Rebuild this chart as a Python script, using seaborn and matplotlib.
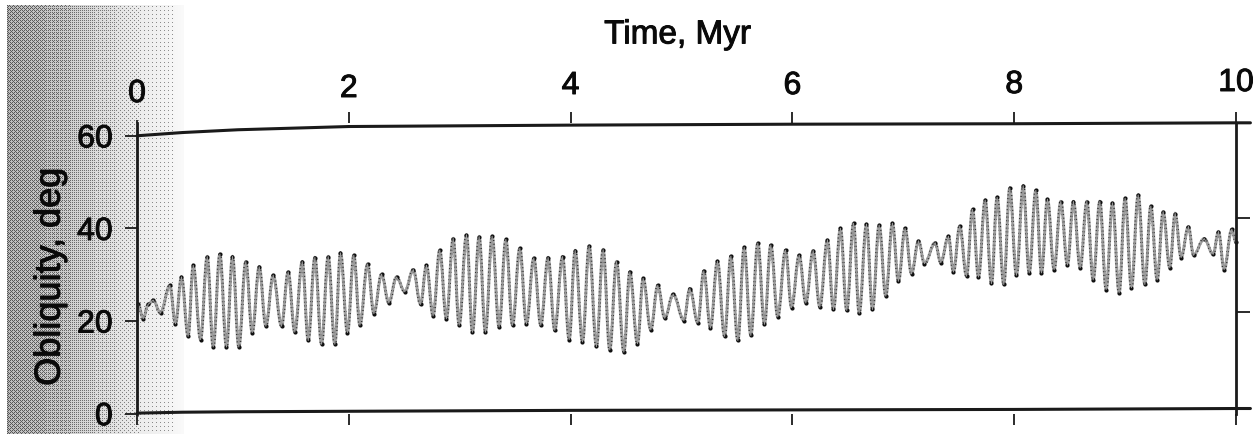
import numpy as np
import pandas as pd
import matplotlib
matplotlib.use("Agg")
import matplotlib.pyplot as plt
import matplotlib.patches as mpatches
import matplotlib.patheffects as pe
import matplotlib.path as mpath
import matplotlib.transforms as mtrans
import seaborn as sns

sns.set_theme(style="white")
plt.rcParams["font.family"] = ["Liberation Sans", "DejaVu Sans"]

# turning points of the obliquity curve
time_myr = [
    0.100, 0.146, 0.191, 0.236, 0.302, 0.386, 0.437, 0.491, 0.551, 0.597, 0.663, 0.723, 0.777, 0.837,
    0.897, 0.951, 1.008, 1.071, 1.129, 1.192, 1.252, 1.318, 1.393, 1.453, 1.513, 1.580, 1.634, 1.694,
    1.754, 1.814, 1.874, 1.925, 1.988, 2.045, 2.100, 2.169, 2.226, 2.295, 2.361, 2.430, 2.505, 2.581,
    2.647, 2.700, 2.760, 2.820, 2.880, 2.941, 2.995, 3.061, 3.115, 3.175, 3.232, 3.292, 3.355, 3.416,
    3.476, 3.542, 3.602, 3.668, 3.731, 3.797, 3.857, 3.927, 3.987, 4.041, 4.107, 4.167, 4.233, 4.293,
    4.353, 4.414, 4.480, 4.534, 4.603, 4.654, 4.723, 4.786, 4.849, 4.925, 5.021, 5.075, 5.147, 5.201,
    5.261, 5.324, 5.388, 5.445, 5.508, 5.565, 5.625, 5.688, 5.748, 5.805, 5.868, 5.938, 5.992, 6.061,
    6.121, 6.187, 6.247, 6.316, 6.370, 6.433, 6.490, 6.551, 6.602, 6.668, 6.722, 6.782, 6.842, 6.902,
    6.956, 7.016, 7.074, 7.137, 7.191, 7.287, 7.338, 7.407, 7.452, 7.509, 7.570, 7.624, 7.678, 7.738,
    7.795, 7.846, 7.906, 7.960, 8.020, 8.081, 8.135, 8.195, 8.246, 8.300, 8.360, 8.420, 8.480, 8.534,
    8.595, 8.655, 8.712, 8.772, 8.829, 8.886, 8.946, 9.000, 9.057, 9.118, 9.178, 9.232, 9.289, 9.343,
    9.403, 9.451, 9.505, 9.571, 9.617, 9.713, 9.794, 9.842, 9.893, 9.962, 10.000,
]
obliquity_deg = [
    23.7, 20.5, 23.6, 24.5, 21.7, 27.7, 19.4, 29.5, 16.7, 32.0, 16.0, 33.9, 14.4, 34.4,
    14.4, 33.9, 14.4, 32.8, 17.5, 31.7, 18.9, 29.9, 18.9, 30.6, 17.6, 32.8, 15.8, 33.7,
    15.0, 33.9, 15.0, 34.7, 17.5, 34.2, 19.1, 32.3, 21.6, 30.1, 23.9, 29.5, 26.3, 31.1,
    23.6, 32.0, 21.1, 35.3, 20.5, 37.8, 19.1, 38.6, 17.6, 38.2, 17.6, 38.3, 18.7, 37.6,
    19.1, 35.7, 19.4, 33.6, 19.1, 33.7, 18.0, 33.9, 16.0, 35.2, 15.5, 36.2, 14.5, 35.4,
    13.8, 32.8, 13.3, 30.6, 15.1, 29.2, 18.1, 27.7, 20.6, 25.8, 20.1, 27.0, 19.6, 30.8,
    18.5, 32.9, 16.7, 34.0, 15.8, 35.9, 16.9, 36.8, 19.3, 36.4, 20.9, 35.3, 22.9, 34.2,
    23.9, 35.2, 23.0, 37.5, 22.5, 40.0, 22.3, 41.1, 21.7, 40.9, 22.5, 40.7, 25.4, 41.1,
    28.6, 40.0, 30.2, 37.3, 32.4, 36.9, 32.6, 38.3, 30.6, 40.5, 29.7, 44.1, 29.5, 46.1,
    28.1, 46.7, 27.9, 48.7, 29.9, 49.2, 30.4, 48.2, 30.4, 46.3, 31.1, 45.8, 32.1, 45.8,
    31.5, 45.8, 28.9, 45.8, 26.8, 45.5, 26.1, 46.5, 27.2, 47.2, 27.9, 44.8, 28.9, 43.6,
    31.5, 43.2, 33.7, 40.4, 34.2, 37.8, 34.4, 39.3, 31.1, 39.8, 37.0,
]

# the top and bottom frame lines are not straight on the scan
frame_time = [0.09, 0.5, 1.0, 2.0, 4.0, 6.0, 8.0, 10.0, 10.13]
frame_top = [60.0, 60.7, 61.3, 62.0, 62.3, 62.5, 62.6, 62.8, 62.8]
frame_bottom = [0.1, 0.3, 0.4, 0.5, 0.7, 0.8, 0.9, 1.1, 1.1]

xtick_values = [0.09, 2, 4, 6, 8, 10]
xtick_labels = ["0", "2", "4", "6", "8", "10"]
ytick_values = [0, 20, 40, 60]
right_tick_values = [21.9, 42.3]
# how far each top label sags on the scan, in pixels
xlabel_sag = [11, 6, 3, 3, 2, 0]

curve = pd.DataFrame({"time": time_myr, "obliquity": obliquity_deg})
top_line = pd.DataFrame({"time": frame_time, "deg": frame_top})
bottom_line = pd.DataFrame({"time": frame_time, "deg": frame_bottom})

W, H = 1256, 435
fig = plt.figure(figsize=(W / 100, H / 100), dpi=100, facecolor="white")

######## scanned grey band on the left, ordered dither ########
bg = fig.add_axes([0, 0, 1, 1], zorder=0)
px = np.arange(W)
shade = np.interp(px, [7, 60, 100, 137, 165, 183, 184], [0.56, 0.65, 0.77, 0.87, 0.92, 0.96, 1.0])
bayer = np.array([[0, 8, 2, 10], [12, 4, 14, 6], [3, 11, 1, 9], [15, 7, 13, 5]]) / 16
tile = np.tile(bayer, (H // 4 + 1, W // 4 + 1))[:H, :W]
dots = (shade[None, :] > tile).astype(float)
band = 0.6 * shade[None, :] + 0.4 * dots
band[:, :7] = 1
band[:6, :] = 1
bg.imshow(band, cmap="gray", vmin=0, vmax=1, aspect="auto", interpolation="bilinear")
bg.axis("off")

######## chart ########
ax_left, ax_right = 137 / W, 1236 / W
ax_bottom, ax_top = 1 - 414.6 / H, 1 - 124 / H
ax = fig.add_axes([ax_left, ax_bottom, ax_right - ax_left, ax_top - ax_bottom], zorder=1)
ax.patch.set_alpha(0)

sns.lineplot(data=curve, x="time", y="obliquity", sort=False, estimator=None,
             color="#9a9a9a", linewidth=0.8, ax=ax)

# round the curve off between turning points, flat at each one
t = curve["time"].to_numpy()
o = curve["obliquity"].to_numpy()
dt = np.diff(t)
verts = [(t[0], o[0])]
codes = [mpath.Path.MOVETO]
for i in range(len(dt)):
    verts += [(t[i] + 0.38 * dt[i], o[i]), (t[i + 1] - 0.38 * dt[i], o[i + 1]), (t[i + 1], o[i + 1])]
    codes += [mpath.Path.CURVE4] * 3
wave = mpath.Path(verts, codes)
ax.add_patch(mpatches.PathPatch(wave, fill=False, edgecolor="#a8a8a8", linewidth=2.2, capstyle="round"))
ax.add_patch(mpatches.PathPatch(wave, fill=False, edgecolor="#333333", linewidth=1.9,
                                linestyle=(0, (0.4, 1.0))))
sns.scatterplot(data=curve, x="time", y="obliquity", color="#101010", s=9,
                linewidth=0, ax=ax, clip_on=False)
sns.lineplot(data=top_line, x="time", y="deg", sort=False, estimator=None,
             color="#1a1a1a", linewidth=2.2, ax=ax, clip_on=False)
sns.lineplot(data=bottom_line, x="time", y="deg", sort=False, estimator=None,
             color="#1a1a1a", linewidth=2.2, ax=ax, clip_on=False)

ax.set_xlim(0.09, 10)
ax.set_ylim(0, 62.76)

for side in ["top", "bottom"]:
    ax.spines[side].set_visible(False)
for side in ["left", "right"]:
    ax.spines[side].set_linewidth(2.0)
    ax.spines[side].set_color("#1a1a1a")

ax.set_xticks(xtick_values)
ax.set_xticklabels(xtick_labels)
ax.set_yticks(ytick_values)
ax.tick_params(axis="x", which="major", top=True, bottom=True, labeltop=True, labelbottom=False,
               length=8, width=1.3, color="#1a1a1a", labelsize=23, pad=10, labelcolor="#0a0a0a")
ax.tick_params(axis="y", which="major", left=True, length=8.5, width=1.3, color="#1a1a1a",
               labelsize=23, pad=9, labelcolor="#0a0a0a")

bold_scan = [pe.withStroke(linewidth=0.7, foreground="#0a0a0a")]
for tick, sag in zip(ax.xaxis.get_major_ticks(), xlabel_sag):
    shift = mtrans.ScaledTranslation(0, -sag / 100, fig.dpi_scale_trans)
    tick.label2.set_transform(tick.label2.get_transform() + shift)
    tick.label2.set_path_effects(bold_scan)
# the first top tick barely shows above the frame
ax.xaxis.get_major_ticks()[0].tick2line.set_markersize(2)
for tick in ax.yaxis.get_major_ticks():
    tick.label1.set_path_effects(bold_scan)

ax2 = ax.twinx()
ax2.set_zorder(1)
ax2.set_ylim(ax.get_ylim())
ax2.set_yticks(right_tick_values)
ax2.set_yticklabels([])
ax2.tick_params(axis="y", right=True, length=10, width=1.3, color="#1a1a1a")
ax2.grid(False)
ax2.set_ylabel("")
for side in ax2.spines:
    ax2.spines[side].set_visible(False)

ax.set_xlabel("Time, Myr", fontsize=24, color="#0a0a0a", path_effects=bold_scan)
ax.xaxis.set_label_position("top")
ax.xaxis.set_label_coords(0.492, 1.303)
ax.xaxis.label.set_verticalalignment("center")
ax.set_ylabel("Obliquity, deg", fontsize=26, color="#0a0a0a", path_effects=bold_scan)
ax.yaxis.set_label_coords(-0.079, 0.47)
ax.yaxis.label.set_verticalalignment("center")
ax.grid(False)

fig.savefig("out.png", dpi=100)
